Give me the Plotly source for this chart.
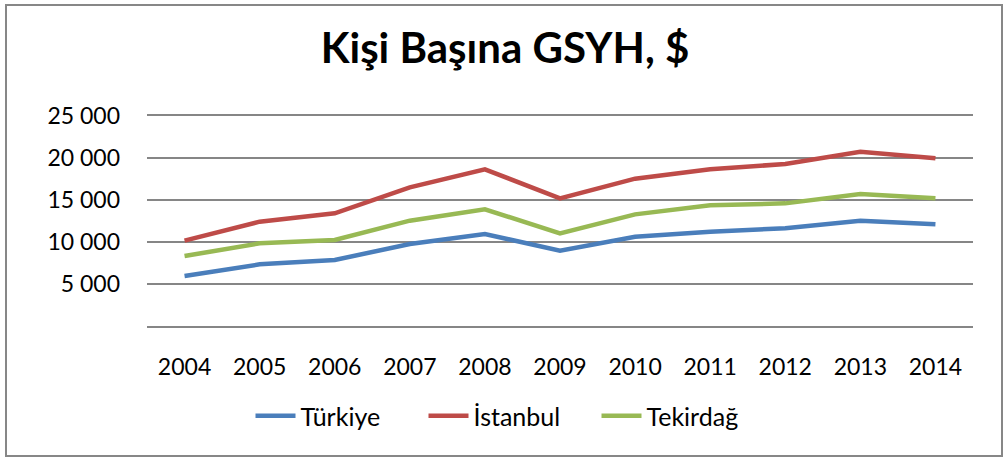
import plotly.graph_objects as go

years = ["2004", "2005", "2006", "2007", "2008", "2009", "2010", "2011", "2012", "2013", "2014"]
turkiye = [5950, 7340, 7860, 9760, 10950, 8970, 10630, 11230, 11630, 12540, 12100]
istanbul = [10160, 12420, 13410, 16510, 18650, 15200, 17540, 18650, 19290, 20750, 19960]
tekirdag = [8330, 9840, 10240, 12540, 13890, 11030, 13290, 14370, 14600, 15710, 15200]

y_ticks = [0, 5000, 10000, 15000, 20000, 25000]
y_labels = ["", "5 000", "10 000", "15 000", "20 000", "25 000"]

FONT = "Lato, Calibri, sans-serif"
GRID = "#868686"

fig = go.Figure()
series = [("Türkiye", turkiye, "#4A7EBB"),
          ("İstanbul", istanbul, "#BE4B48"),
          ("Tekirdağ", tekirdag, "#98B954")]
for name, vals, col in series:
    fig.add_trace(go.Scatter(x=years, y=vals, name=name, mode="lines",
                             line=dict(color=col, width=4.5)))

W, H = 1004, 457
L, R, T, B = 147, 31, 116, 131
pw, ph = W - L - R, H - T - B

fig.update_layout(
    width=W, height=H,
    margin=dict(l=L, r=R, t=T, b=B),
    paper_bgcolor="white", plot_bgcolor="white",
    font=dict(family=FONT, size=23, color="black"),
    title=dict(text="<b>Kişi Başına GSYH, $</b>", font=dict(family=FONT, size=42, color="black"),
               x=505 / W, xref="container", xanchor="center",
               y=1 - 48 / H, yref="container", yanchor="middle"),
    showlegend=True,
    legend=dict(orientation="h", xref="container", x=510 / W, xanchor="center",
                yref="container", y=1 - 416 / H, yanchor="middle",
                font=dict(size=25), itemwidth=40, entrywidth=118, entrywidthmode="pixels",
                bgcolor="rgba(0,0,0,0)"),
    # bottom/top lines of the plot area stand in for the 0 and 25 000 gridlines
    xaxis=dict(type="category", range=[-0.5, 10.5], showgrid=False, zeroline=False,
               showline=True, mirror=True, linecolor=GRID, linewidth=1.5,
               ticks="", ticklabelstandoff=20, fixedrange=True),
    yaxis=dict(range=[0, 25000], tickvals=y_ticks, ticktext=y_labels,
               showgrid=True, gridcolor=GRID, gridwidth=1.5, zeroline=False,
               showline=False, ticks="", ticklabelstandoff=26, fixedrange=True),
    shapes=[dict(type="rect", xref="paper", yref="paper",
                 x0=(6 - L) / pw, x1=(1002 - L) / pw,
                 y0=(T + ph - 456) / ph, y1=(T + ph - 5) / ph,
                 line=dict(color="#878787", width=2), layer="below")],
)

fig.write_html("out.html", config={"displayModeBar": False},
               post_script="document.body.style.margin='0';")
